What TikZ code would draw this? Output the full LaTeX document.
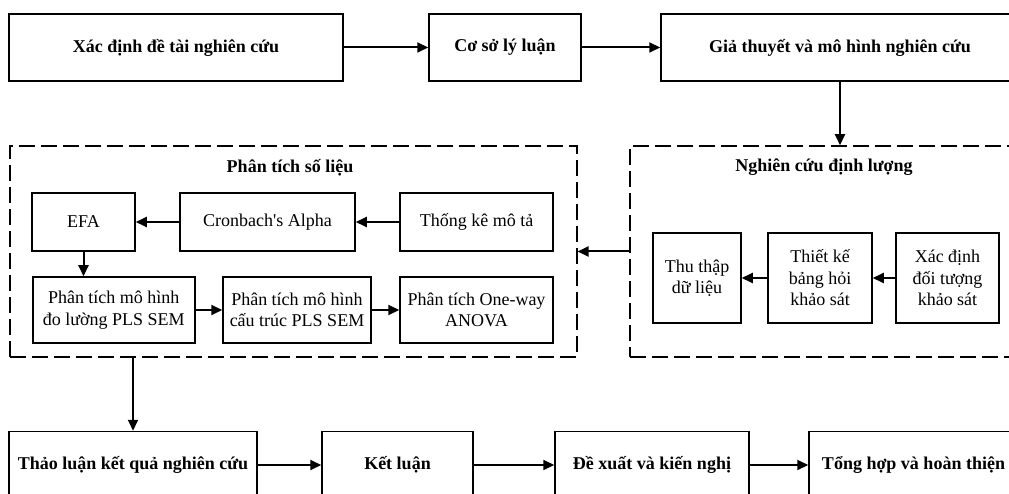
\documentclass[tikz,border=0pt]{standalone}
\usepackage{fontspec}
\setmainfont{Liberation Serif}
\usetikzlibrary{arrows.meta}
\begin{document}
\begin{tikzpicture}[x=1pt,y=-1pt,
  box/.style={draw, line width=1.5pt, inner sep=2pt, align=center, font=\fontsize{18}{21.5}\selectfont},
  bbox/.style={box, font=\bfseries\fontsize{18}{21.5}\selectfont},
  dbox/.style={draw, line width=1.5pt, dash pattern=on 16pt off 6pt, inner sep=0pt},
  ttl/.style={font=\bfseries\fontsize{18}{21.5}\selectfont},
  arr/.style={line width=2pt, -{Triangle[length=11pt,width=10pt]}}]
\useasboundingbox (0,0) rectangle (1009,494);
\clip (0,0) rectangle (1009,494);
% top row
\node[bbox, minimum width=334pt, minimum height=67pt] (t1) at (176,47.5) {Xác định đề tài nghiên cứu};
\node[bbox, minimum width=152pt, minimum height=67pt] (t2) at (505,47.5) {Cơ sở lý luận};
\node[bbox, minimum width=358pt, minimum height=67pt] (t3) at (840,47.5) {Giả thuyết và mô hình nghiên cứu};
% dashed groups
\node[dbox, minimum width=567pt, minimum height=211pt] (ld) at (293.3,251.5) {};
\node[dbox, minimum width=388pt, minimum height=211pt] (rd) at (824,251.5) {};
\node[ttl] (ldt) at (290,168) {Phân tích số liệu};
\node[ttl] (rdt) at (824,167) {Nghiên cứu định lượng};
% left group
\node[box, minimum width=103pt, minimum height=58pt] (efa) at (83.5,222) {EFA};
\node[box, minimum width=175pt, minimum height=58pt] (cron) at (267.5,222) {Cronbach\textquotesingle s Alpha};
\node[box, minimum width=153pt, minimum height=58pt] (tkmt) at (476.5,222) {Thống kê mô tả};
\node[box, minimum width=162pt, minimum height=66pt] (pt1) at (113.75,310) {Phân tích mô hình\\đo lường PLS SEM};
\node[box, minimum width=148pt, minimum height=66pt] (pt2) at (297,310) {Phân tích mô hình\\cấu trúc PLS SEM};
\node[box, minimum width=153pt, minimum height=66pt] (pt3) at (476.5,310) {Phân tích One-way\\ANOVA};
% right group
\node[box, minimum width=88pt, minimum height=90pt] (thu) at (697,278) {Thu thập\\dữ liệu};
\node[box, minimum width=104pt, minimum height=90pt] (tk) at (820,278) {Thiết kế\\bảng hỏi\\khảo sát};
\node[box, minimum width=103pt, minimum height=90pt] (xd) at (947.5,278) {Xác định\\đối tượng\\khảo sát};
% bottom row
\node[bbox, minimum width=248pt, minimum height=67pt] (b1) at (133,465) {Thảo luận kết quả nghiên cứu};
\node[bbox, minimum width=151pt, minimum height=67pt] (b2) at (397.5,465) {Kết luận};
\node[bbox, minimum width=194pt, minimum height=67pt] (b3) at (652,465) {Đề xuất và kiến nghị};
\node[bbox, minimum width=209pt, minimum height=67pt] (b4) at (913.5,465) {Tổng hợp và hoàn thiện};
% connectors
\draw[arr] (t1) -- (t2);
\draw[arr] (t2) -- (t3);
\draw[arr] (t3.south) -- (t3.south |- rd.north);
\draw[arr] (xd) -- (tk);
\draw[arr] (tk) -- (thu);
\draw[arr] (rd.west) -- (ld.east);
\draw[arr] (tkmt) -- (cron);
\draw[arr] (cron) -- (efa);
\draw[arr] (efa.south) -- (efa.south |- pt1.north);
\draw[arr] (pt1) -- (pt2);
\draw[arr] (pt2) -- (pt3);
\draw[arr] (ld.south -| b1.north) -- (b1.north);
\draw[arr] (b1) -- (b2);
\draw[arr] (b2) -- (b3);
\draw[arr] (b3) -- (b4);
\end{tikzpicture}
\end{document}
